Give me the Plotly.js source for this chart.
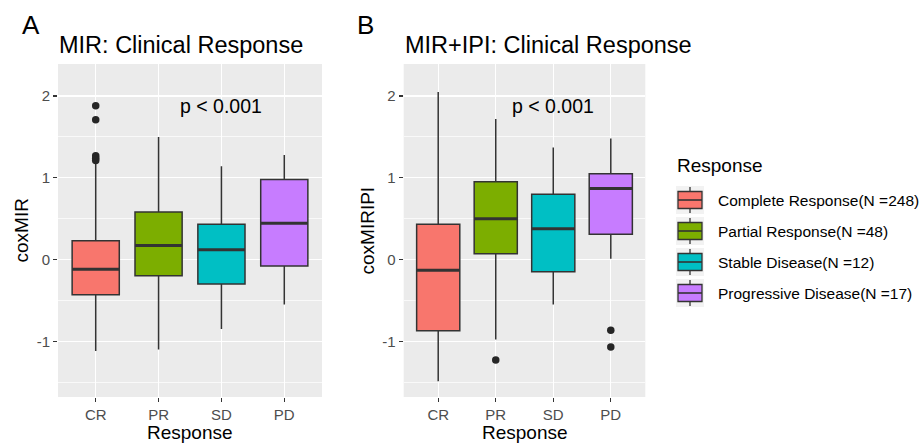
<!DOCTYPE html>
<html>
<head>
<meta charset="utf-8">
<script src="https://cdn.plot.ly/plotly-3.0.1.min.js"></script>
<style>html,body{margin:0;padding:0;background:#fff;}#chart{width:922px;height:444px;}</style>
</head>
<body>
<div id="chart"></div>
<script>
// ---------- data ----------
const categories = ['CR', 'PR', 'SD', 'PD'];
const groupLabels = ['Complete Response(N =248)', 'Partial Response(N =48)', 'Stable Disease(N =12)', 'Progressive Disease(N =17)'];
const groupColors = ['#F8766D', '#7CAE00', '#00BFC4', '#C77CFF'];

// Panel A: coxMIR
const mirLower  = [-1.12, -1.10, -0.85, -0.55];
const mirQ1     = [-0.43, -0.20, -0.30, -0.08];
const mirMedian = [-0.12,  0.17,  0.12,  0.445];
const mirQ3     = [ 0.23,  0.58,  0.43,  0.98];
const mirUpper  = [ 1.17,  1.50,  1.14,  1.28];
const mirOutCat = ['CR', 'CR', 'CR', 'CR', 'CR'];
const mirOutVal = [1.88, 1.71, 1.27, 1.24, 1.21];

// Panel B: coxMIRIPI
const ipiLower  = [-1.49, -0.98, -0.55, 0.01];
const ipiQ1     = [-0.87,  0.07, -0.15, 0.31];
const ipiMedian = [-0.13,  0.50,  0.375, 0.87];
const ipiQ3     = [ 0.43,  0.95,  0.80, 1.05];
const ipiUpper  = [ 2.05,  1.72,  1.37, 1.48];
const ipiOutCat = ['PR', 'PD', 'PD'];
const ipiOutVal = [-1.23, -0.865, -1.07];

const pLabel = 'p < 0.001';
const pLabelCat = 'SD';
const pLabelVal = 1.88;

// ---------- layout helpers ----------
const W = 922, H = 444;
const px = x => x / W;
const py = y => 1 - y / H;
const FONT = 'Liberation Sans, Arial, sans-serif';
const EDGE = '#333333';
const BOXW = 0.75;

const traces = [];
const shapes = [];
const annotations = [];

function addPanel(xa, ya, lower, q1, med, q3, upper, outCat, outVal) {
  categories.forEach((c, i) => {
    traces.push({
      type: 'box', xaxis: xa, yaxis: ya,
      x: [i], q1: [q1[i]], median: [med[i]], q3: [q3[i]],
      lowerfence: [lower[i]], upperfence: [upper[i]],
      width: BOXW, whiskerwidth: 0, boxpoints: false,
      fillcolor: groupColors[i], line: {color: EDGE, width: 1.5},
      showlegend: false, name: c, hoverinfo: 'y'
    });
    shapes.push({
      type: 'line', xref: xa, yref: ya,
      x0: i - BOXW / 2, x1: i + BOXW / 2, y0: med[i], y1: med[i],
      line: {color: EDGE, width: 3}
    });
  });
  traces.push({
    type: 'scatter', mode: 'markers', xaxis: xa, yaxis: ya,
    x: outCat.map(c => categories.indexOf(c)), y: outVal,
    marker: {color: '#262626', size: 7.5}, showlegend: false, hoverinfo: 'y'
  });
  annotations.push({
    xref: xa, yref: ya, x: categories.indexOf(pLabelCat), y: pLabelVal,
    text: pLabel, showarrow: false, xanchor: 'center', yanchor: 'middle',
    font: {family: FONT, size: 19.5, color: '#000'}
  });
}

addPanel('x', 'y', mirLower, mirQ1, mirMedian, mirQ3, mirUpper, mirOutCat, mirOutVal);
addPanel('x2', 'y2', ipiLower, ipiQ1, ipiMedian, ipiQ3, ipiUpper, ipiOutCat, ipiOutVal);

// titles, panel letters, axis titles
function txt(x, y, text, size, opts) {
  annotations.push(Object.assign({
    xref: 'paper', yref: 'paper', x: px(x), y: py(y), text: text, showarrow: false,
    xanchor: 'left', yanchor: 'middle', font: {family: FONT, size: size, color: '#000'}
  }, opts || {}));
}
txt(31, 25, 'A', 26, {xanchor: 'center'});
txt(365, 25, 'B', 26, {xanchor: 'center'});
txt(57, 45, 'MIR: Clinical Response', 23.5);
txt(403, 45, 'MIR+IPI: Clinical Response', 23.5);
txt(190, 444, 'Response', 19, {xanchor: 'center', yanchor: 'bottom', borderpad: 0});
txt(524.5, 444, 'Response', 19, {xanchor: 'center', yanchor: 'bottom', borderpad: 0});
txt(21, 230.5, 'coxMIR', 19, {xanchor: 'center', textangle: -90});
txt(367, 230.5, 'coxMIRIPI', 19, {xanchor: 'center', textangle: -90});

// legend
txt(675, 165, 'Response', 19);
groupLabels.forEach((lab, i) => {
  const cy = 200 + 31 * i;
  shapes.push({type: 'rect', xref: 'paper', yref: 'paper', x0: px(676), x1: px(704), y0: py(cy + 14), y1: py(cy - 14),
    fillcolor: '#F2F2F2', line: {width: 0}});
  shapes.push({type: 'line', xref: 'paper', yref: 'paper', x0: px(690), x1: px(690), y0: py(cy + 13), y1: py(cy - 13),
    line: {color: EDGE, width: 1.3}});
  shapes.push({type: 'rect', xref: 'paper', yref: 'paper', x0: px(678), x1: px(702), y0: py(cy + 8.5), y1: py(cy - 8.5),
    fillcolor: groupColors[i], line: {color: EDGE, width: 1.3}});
  shapes.push({type: 'line', xref: 'paper', yref: 'paper', x0: px(678), x1: px(702), y0: py(cy), y1: py(cy),
    line: {color: EDGE, width: 1.6}});
  txt(716, cy, lab, 15.5);
});

function xAxis(d0, d1, anchor) {
  return {
    domain: [px(d0), px(d1)], anchor: anchor, range: [-0.6, 3.6],
    tickvals: [0, 1, 2, 3], ticktext: categories,
    showgrid: true, gridcolor: '#FFFFFF', gridwidth: 1.4, zeroline: false, showline: false,
    ticks: 'outside', ticklen: 4, tickwidth: 1.2, tickcolor: EDGE,
    tickfont: {family: FONT, size: 15, color: '#4D4D4D'}, fixedrange: true
  };
}
function yAxis(anchor) {
  return {
    domain: [py(397), py(64)], anchor: anchor, range: [-1.682, 2.392],
    tickvals: [-1, 0, 1, 2], ticktext: ['-1', '0', '1', '2'],
    showgrid: true, gridcolor: '#FFFFFF', gridwidth: 1.4, zeroline: false, showline: false,
    minor: {tickvals: [-1.5, -0.5, 0.5, 1.5], showgrid: true, gridcolor: '#FFFFFF', gridwidth: 0.7, ticks: ''},
    ticks: 'outside', ticklen: 4, tickwidth: 1.2, tickcolor: EDGE,
    tickfont: {family: FONT, size: 15, color: '#4D4D4D'}, fixedrange: true
  };
}

const layout = {
  width: W, height: H,
  margin: {l: 0, r: 0, t: 0, b: 0},
  paper_bgcolor: '#FFFFFF', plot_bgcolor: '#EBEBEB',
  boxmode: 'overlay', showlegend: false,
  xaxis: xAxis(58, 322, 'y'),
  yaxis: yAxis('x'),
  xaxis2: xAxis(403.7, 645.3, 'y2'),
  yaxis2: yAxis('x2'),
  shapes: shapes, annotations: annotations,
  font: {family: FONT}
};

Plotly.newPlot('chart', traces, layout, {displayModeBar: false, staticPlot: true});
</script>
</body>
</html>
